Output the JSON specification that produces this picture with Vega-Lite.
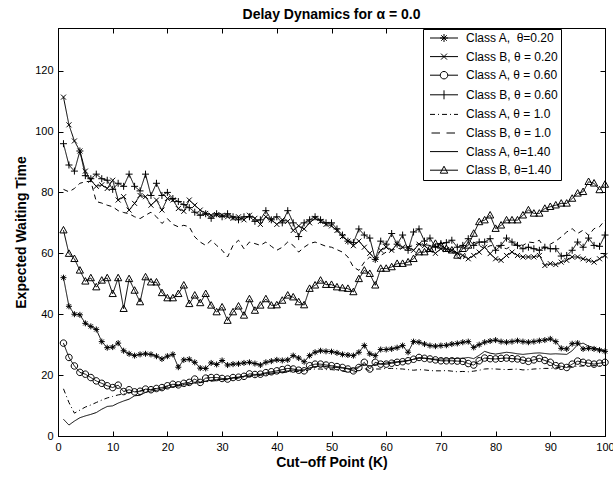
{
"$schema":"https://vega.github.io/schema/vega-lite/v6.json",
"width":547,"height":408,
"autosize":{"type":"none"},
"padding":{"left":58,"top":28,"right":8,"bottom":42},
"background":"white",
"title":{"text":"Delay Dynamics for α = 0.0","font":"Liberation Sans","fontSize":14,"fontWeight":"bold","color":"black","anchor":"middle","offset":6},
"data":{"values":[
{"s":"a020","k":1,"v":52},{"s":"a020","k":2,"v":42.6},{"s":"a020","k":3,"v":40},{"s":"a020","k":4,"v":39.8},{"s":"a020","k":5,"v":37},{"s":"a020","k":6,"v":36},{"s":"a020","k":7,"v":35},{"s":"a020","k":8,"v":31},{"s":"a020","k":9,"v":29},{"s":"a020","k":10,"v":29.2},
{"s":"a020","k":11,"v":30.5},{"s":"a020","k":12,"v":28},{"s":"a020","k":13,"v":27},{"s":"a020","k":14,"v":26.4},{"s":"a020","k":15,"v":26.8},{"s":"a020","k":16,"v":27},{"s":"a020","k":17,"v":26.8},{"s":"a020","k":18,"v":26.2},{"s":"a020","k":19,"v":25.3},{"s":"a020","k":20,"v":26.2},
{"s":"a020","k":21,"v":26.8},{"s":"a020","k":22,"v":22.6},{"s":"a020","k":23,"v":25},{"s":"a020","k":24,"v":25.2},{"s":"a020","k":25,"v":24.2},{"s":"a020","k":26,"v":22.3},{"s":"a020","k":27,"v":22.2},{"s":"a020","k":28,"v":24},{"s":"a020","k":29,"v":23.5},{"s":"a020","k":30,"v":24.8},
{"s":"a020","k":31,"v":23.3},{"s":"a020","k":32,"v":23.6},{"s":"a020","k":33,"v":23.7},{"s":"a020","k":34,"v":24},{"s":"a020","k":35,"v":24.2},{"s":"a020","k":36,"v":23.8},{"s":"a020","k":37,"v":23.3},{"s":"a020","k":38,"v":24.2},{"s":"a020","k":39,"v":24.6},{"s":"a020","k":40,"v":25},
{"s":"a020","k":41,"v":24.8},{"s":"a020","k":42,"v":25},{"s":"a020","k":43,"v":26.4},{"s":"a020","k":44,"v":25.6},{"s":"a020","k":45,"v":24.4},{"s":"a020","k":46,"v":26.4},{"s":"a020","k":47,"v":27.5},{"s":"a020","k":48,"v":28},{"s":"a020","k":49,"v":27.8},{"s":"a020","k":50,"v":27.7},
{"s":"a020","k":51,"v":27.3},{"s":"a020","k":52,"v":26.8},{"s":"a020","k":53,"v":26.6},{"s":"a020","k":54,"v":26.4},{"s":"a020","k":55,"v":27.5},{"s":"a020","k":56,"v":29.7},{"s":"a020","k":57,"v":27},{"s":"a020","k":58,"v":26.4},{"s":"a020","k":59,"v":28.4},{"s":"a020","k":60,"v":28.4},
{"s":"a020","k":61,"v":28.6},{"s":"a020","k":62,"v":29},{"s":"a020","k":63,"v":29.7},{"s":"a020","k":64,"v":27.5},{"s":"a020","k":65,"v":31},{"s":"a020","k":66,"v":30.8},{"s":"a020","k":67,"v":30.2},{"s":"a020","k":68,"v":29.7},{"s":"a020","k":69,"v":29.5},{"s":"a020","k":70,"v":29.7},
{"s":"a020","k":71,"v":29.8},{"s":"a020","k":72,"v":30.2},{"s":"a020","k":73,"v":30.4},{"s":"a020","k":74,"v":30.8},{"s":"a020","k":75,"v":31},{"s":"a020","k":76,"v":29.1},{"s":"a020","k":77,"v":30},{"s":"a020","k":78,"v":30.8},{"s":"a020","k":79,"v":31.2},{"s":"a020","k":80,"v":31.5},
{"s":"a020","k":81,"v":31},{"s":"a020","k":82,"v":30.8},{"s":"a020","k":83,"v":31},{"s":"a020","k":84,"v":31.3},{"s":"a020","k":85,"v":31},{"s":"a020","k":86,"v":30.8},{"s":"a020","k":87,"v":31},{"s":"a020","k":88,"v":31.3},{"s":"a020","k":89,"v":31.5},{"s":"a020","k":90,"v":31.9},
{"s":"a020","k":91,"v":31},{"s":"a020","k":92,"v":28.8},{"s":"a020","k":93,"v":28.6},{"s":"a020","k":94,"v":30.3},{"s":"a020","k":95,"v":30.5},{"s":"a020","k":96,"v":28.6},{"s":"a020","k":97,"v":28.8},{"s":"a020","k":98,"v":28.6},{"s":"a020","k":99,"v":28.2},{"s":"a020","k":100,"v":27.8},
{"s":"a060","k":1,"v":30.5},{"s":"a060","k":2,"v":25.8},{"s":"a060","k":3,"v":23},{"s":"a060","k":4,"v":20.9},{"s":"a060","k":5,"v":20.3},{"s":"a060","k":6,"v":19.2},{"s":"a060","k":7,"v":18.1},{"s":"a060","k":8,"v":17.3},{"s":"a060","k":9,"v":16.5},{"s":"a060","k":10,"v":15.9},
{"s":"a060","k":11,"v":16.7},{"s":"a060","k":12,"v":14.6},{"s":"a060","k":13,"v":15.2},{"s":"a060","k":14,"v":14.5},{"s":"a060","k":15,"v":14.7},{"s":"a060","k":16,"v":15.4},{"s":"a060","k":17,"v":15.2},{"s":"a060","k":18,"v":15.6},{"s":"a060","k":19,"v":15.9},{"s":"a060","k":20,"v":16.5},
{"s":"a060","k":21,"v":17},{"s":"a060","k":22,"v":16.8},{"s":"a060","k":23,"v":17.3},{"s":"a060","k":24,"v":17.6},{"s":"a060","k":25,"v":18.7},{"s":"a060","k":26,"v":17.6},{"s":"a060","k":27,"v":19},{"s":"a060","k":28,"v":19.2},{"s":"a060","k":29,"v":19.2},{"s":"a060","k":30,"v":18.9},
{"s":"a060","k":31,"v":18.7},{"s":"a060","k":32,"v":19.2},{"s":"a060","k":33,"v":19.3},{"s":"a060","k":34,"v":19.6},{"s":"a060","k":35,"v":20.4},{"s":"a060","k":36,"v":20.2},{"s":"a060","k":37,"v":20.3},{"s":"a060","k":38,"v":20.8},{"s":"a060","k":39,"v":21.1},{"s":"a060","k":40,"v":21.4},
{"s":"a060","k":41,"v":21.8},{"s":"a060","k":42,"v":22.2},{"s":"a060","k":43,"v":22},{"s":"a060","k":44,"v":21.6},{"s":"a060","k":45,"v":21.4},{"s":"a060","k":46,"v":23.1},{"s":"a060","k":47,"v":23.6},{"s":"a060","k":48,"v":23.6},{"s":"a060","k":49,"v":23.3},{"s":"a060","k":50,"v":23.1},
{"s":"a060","k":51,"v":22.8},{"s":"a060","k":52,"v":22.5},{"s":"a060","k":53,"v":22},{"s":"a060","k":54,"v":21.4},{"s":"a060","k":55,"v":22.5},{"s":"a060","k":56,"v":24.2},{"s":"a060","k":57,"v":22},{"s":"a060","k":58,"v":24.2},{"s":"a060","k":59,"v":23.6},{"s":"a060","k":60,"v":23.6},
{"s":"a060","k":61,"v":23.9},{"s":"a060","k":62,"v":24.2},{"s":"a060","k":63,"v":24.4},{"s":"a060","k":64,"v":24.7},{"s":"a060","k":65,"v":25.2},{"s":"a060","k":66,"v":25.8},{"s":"a060","k":67,"v":25.5},{"s":"a060","k":68,"v":25.3},{"s":"a060","k":69,"v":25},{"s":"a060","k":70,"v":24.7},
{"s":"a060","k":71,"v":24.7},{"s":"a060","k":72,"v":24.7},{"s":"a060","k":73,"v":24.6},{"s":"a060","k":74,"v":24.5},{"s":"a060","k":75,"v":23.8},{"s":"a060","k":76,"v":23.3},{"s":"a060","k":77,"v":24.7},{"s":"a060","k":78,"v":25.6},{"s":"a060","k":79,"v":25.4},{"s":"a060","k":80,"v":25.3},
{"s":"a060","k":81,"v":25.5},{"s":"a060","k":82,"v":25.6},{"s":"a060","k":83,"v":25.4},{"s":"a060","k":84,"v":25.3},{"s":"a060","k":85,"v":24.9},{"s":"a060","k":86,"v":24.5},{"s":"a060","k":87,"v":25},{"s":"a060","k":88,"v":25.5},{"s":"a060","k":89,"v":24.8},{"s":"a060","k":90,"v":24.2},
{"s":"a060","k":91,"v":23.1},{"s":"a060","k":92,"v":22.9},{"s":"a060","k":93,"v":22.5},{"s":"a060","k":94,"v":23.6},{"s":"a060","k":95,"v":24.6},{"s":"a060","k":96,"v":24.2},{"s":"a060","k":97,"v":23.9},{"s":"a060","k":98,"v":23.6},{"s":"a060","k":99,"v":23.9},{"s":"a060","k":100,"v":24.2},
{"s":"a140","k":1,"v":5.5},{"s":"a140","k":2,"v":3.6},{"s":"a140","k":3,"v":4.9},{"s":"a140","k":4,"v":6},{"s":"a140","k":5,"v":6.6},{"s":"a140","k":6,"v":7.1},{"s":"a140","k":7,"v":7.7},{"s":"a140","k":8,"v":8.8},{"s":"a140","k":9,"v":9.7},{"s":"a140","k":10,"v":9.9},
{"s":"a140","k":11,"v":10.8},{"s":"a140","k":12,"v":11.5},{"s":"a140","k":13,"v":12.1},{"s":"a140","k":14,"v":13.2},{"s":"a140","k":15,"v":13.4},{"s":"a140","k":16,"v":14.3},{"s":"a140","k":17,"v":14.8},{"s":"a140","k":18,"v":15},{"s":"a140","k":19,"v":15.4},{"s":"a140","k":20,"v":15.8},
{"s":"a140","k":21,"v":16.2},{"s":"a140","k":22,"v":16.4},{"s":"a140","k":23,"v":16.8},{"s":"a140","k":24,"v":17.1},{"s":"a140","k":25,"v":17.4},{"s":"a140","k":26,"v":17.5},{"s":"a140","k":27,"v":18},{"s":"a140","k":28,"v":18.3},{"s":"a140","k":29,"v":18.5},{"s":"a140","k":30,"v":18.6},
{"s":"a140","k":31,"v":18.8},{"s":"a140","k":32,"v":19},{"s":"a140","k":33,"v":19.3},{"s":"a140","k":34,"v":19.6},{"s":"a140","k":35,"v":19.8},{"s":"a140","k":36,"v":20},{"s":"a140","k":37,"v":20.2},{"s":"a140","k":38,"v":20.5},{"s":"a140","k":39,"v":20.7},{"s":"a140","k":40,"v":20.9},
{"s":"a140","k":41,"v":21.1},{"s":"a140","k":42,"v":21.4},{"s":"a140","k":43,"v":21.6},{"s":"a140","k":44,"v":21.6},{"s":"a140","k":45,"v":21.8},{"s":"a140","k":46,"v":22.4},{"s":"a140","k":47,"v":22.8},{"s":"a140","k":48,"v":23},{"s":"a140","k":49,"v":22.8},{"s":"a140","k":50,"v":22.6},
{"s":"a140","k":51,"v":22.5},{"s":"a140","k":52,"v":22.3},{"s":"a140","k":53,"v":22.2},{"s":"a140","k":54,"v":22},{"s":"a140","k":55,"v":22.8},{"s":"a140","k":56,"v":23.6},{"s":"a140","k":57,"v":23},{"s":"a140","k":58,"v":23.5},{"s":"a140","k":59,"v":23.7},{"s":"a140","k":60,"v":24},
{"s":"a140","k":61,"v":24.2},{"s":"a140","k":62,"v":24.4},{"s":"a140","k":63,"v":24.6},{"s":"a140","k":64,"v":24.8},{"s":"a140","k":65,"v":25.2},{"s":"a140","k":66,"v":25.5},{"s":"a140","k":67,"v":25.6},{"s":"a140","k":68,"v":25.4},{"s":"a140","k":69,"v":25.2},{"s":"a140","k":70,"v":25.3},
{"s":"a140","k":71,"v":25.3},{"s":"a140","k":72,"v":25.4},{"s":"a140","k":73,"v":25.5},{"s":"a140","k":74,"v":25.5},{"s":"a140","k":75,"v":25.8},{"s":"a140","k":76,"v":25.4},{"s":"a140","k":77,"v":26.5},{"s":"a140","k":78,"v":27.8},{"s":"a140","k":79,"v":27.2},{"s":"a140","k":80,"v":26.9},
{"s":"a140","k":81,"v":27.2},{"s":"a140","k":82,"v":27.5},{"s":"a140","k":83,"v":27.3},{"s":"a140","k":84,"v":27},{"s":"a140","k":85,"v":26.8},{"s":"a140","k":86,"v":27},{"s":"a140","k":87,"v":27.2},{"s":"a140","k":88,"v":27.3},{"s":"a140","k":89,"v":27.1},{"s":"a140","k":90,"v":26.9},
{"s":"a140","k":91,"v":27},{"s":"a140","k":92,"v":26.9},{"s":"a140","k":93,"v":26.8},{"s":"a140","k":94,"v":28},{"s":"a140","k":95,"v":30},{"s":"a140","k":96,"v":30.5},{"s":"a140","k":97,"v":29.5},{"s":"a140","k":98,"v":29},{"s":"a140","k":99,"v":28.5},{"s":"a140","k":100,"v":28},
{"s":"a100","k":1,"v":15.5},{"s":"a100","k":2,"v":11},{"s":"a100","k":3,"v":7.5},{"s":"a100","k":4,"v":8.5},{"s":"a100","k":5,"v":9.5},{"s":"a100","k":6,"v":10.2},{"s":"a100","k":7,"v":11},{"s":"a100","k":8,"v":11.8},{"s":"a100","k":9,"v":12.5},{"s":"a100","k":10,"v":13},
{"s":"a100","k":11,"v":13.5},{"s":"a100","k":12,"v":13.8},{"s":"a100","k":13,"v":14.2},{"s":"a100","k":14,"v":14.5},{"s":"a100","k":15,"v":14.8},{"s":"a100","k":16,"v":15},{"s":"a100","k":17,"v":15.3},{"s":"a100","k":18,"v":15.6},{"s":"a100","k":19,"v":15.8},{"s":"a100","k":20,"v":16.2},
{"s":"a100","k":21,"v":16.5},{"s":"a100","k":22,"v":16.6},{"s":"a100","k":23,"v":16.9},{"s":"a100","k":24,"v":17.1},{"s":"a100","k":25,"v":17.4},{"s":"a100","k":26,"v":17.6},{"s":"a100","k":27,"v":17.8},{"s":"a100","k":28,"v":18},{"s":"a100","k":29,"v":18.2},{"s":"a100","k":30,"v":18.4},
{"s":"a100","k":31,"v":18.5},{"s":"a100","k":32,"v":18.7},{"s":"a100","k":33,"v":19},{"s":"a100","k":34,"v":19.2},{"s":"a100","k":35,"v":19.5},{"s":"a100","k":36,"v":19.7},{"s":"a100","k":37,"v":19.9},{"s":"a100","k":38,"v":20.2},{"s":"a100","k":39,"v":20.4},{"s":"a100","k":40,"v":20.6},
{"s":"a100","k":41,"v":20.8},{"s":"a100","k":42,"v":21},{"s":"a100","k":43,"v":21.2},{"s":"a100","k":44,"v":21.2},{"s":"a100","k":45,"v":21.3},{"s":"a100","k":46,"v":21.8},{"s":"a100","k":47,"v":22},{"s":"a100","k":48,"v":22},{"s":"a100","k":49,"v":21.8},{"s":"a100","k":50,"v":21.8},
{"s":"a100","k":51,"v":21.6},{"s":"a100","k":52,"v":21.3},{"s":"a100","k":53,"v":21},{"s":"a100","k":54,"v":20.9},{"s":"a100","k":55,"v":21.6},{"s":"a100","k":56,"v":22.2},{"s":"a100","k":57,"v":21.4},{"s":"a100","k":58,"v":22},{"s":"a100","k":59,"v":22},{"s":"a100","k":60,"v":22.2},
{"s":"a100","k":61,"v":22.2},{"s":"a100","k":62,"v":22.1},{"s":"a100","k":63,"v":22},{"s":"a100","k":64,"v":21.8},{"s":"a100","k":65,"v":21.6},{"s":"a100","k":66,"v":21.8},{"s":"a100","k":67,"v":21.7},{"s":"a100","k":68,"v":21.5},{"s":"a100","k":69,"v":21.4},{"s":"a100","k":70,"v":21.4},
{"s":"a100","k":71,"v":21.5},{"s":"a100","k":72,"v":21.3},{"s":"a100","k":73,"v":21.1},{"s":"a100","k":74,"v":21.2},{"s":"a100","k":75,"v":21.1},{"s":"a100","k":76,"v":21.3},{"s":"a100","k":77,"v":21.6},{"s":"a100","k":78,"v":22},{"s":"a100","k":79,"v":22.1},{"s":"a100","k":80,"v":22},
{"s":"a100","k":81,"v":21.9},{"s":"a100","k":82,"v":21.8},{"s":"a100","k":83,"v":21.9},{"s":"a100","k":84,"v":22},{"s":"a100","k":85,"v":21.7},{"s":"a100","k":86,"v":21.8},{"s":"a100","k":87,"v":22},{"s":"a100","k":88,"v":22.1},{"s":"a100","k":89,"v":22.2},{"s":"a100","k":90,"v":22.2},
{"s":"a100","k":91,"v":22.4},{"s":"a100","k":92,"v":22.5},{"s":"a100","k":93,"v":22.6},{"s":"a100","k":94,"v":22.8},{"s":"a100","k":95,"v":22.9},{"s":"a100","k":96,"v":23},{"s":"a100","k":97,"v":23},{"s":"a100","k":98,"v":23.1},{"s":"a100","k":99,"v":23.1},{"s":"a100","k":100,"v":23.2},
{"s":"b020","k":1,"v":111.3},{"s":"b020","k":2,"v":102.2},{"s":"b020","k":3,"v":96.9},{"s":"b020","k":4,"v":93.6},{"s":"b020","k":5,"v":87},{"s":"b020","k":6,"v":84},{"s":"b020","k":7,"v":82},{"s":"b020","k":8,"v":82.5},{"s":"b020","k":9,"v":81.3},{"s":"b020","k":10,"v":84},
{"s":"b020","k":11,"v":77.5},{"s":"b020","k":12,"v":78.6},{"s":"b020","k":13,"v":74.2},{"s":"b020","k":14,"v":76.4},{"s":"b020","k":15,"v":79},{"s":"b020","k":16,"v":78.6},{"s":"b020","k":17,"v":75.8},{"s":"b020","k":18,"v":77.5},{"s":"b020","k":19,"v":74.2},{"s":"b020","k":20,"v":78},
{"s":"b020","k":21,"v":77.5},{"s":"b020","k":22,"v":74.7},{"s":"b020","k":23,"v":73.8},{"s":"b020","k":24,"v":77.5},{"s":"b020","k":25,"v":75.8},{"s":"b020","k":26,"v":74.2},{"s":"b020","k":27,"v":73.1},{"s":"b020","k":28,"v":72.5},{"s":"b020","k":29,"v":72.7},{"s":"b020","k":30,"v":72.5},
{"s":"b020","k":31,"v":72},{"s":"b020","k":32,"v":71.5},{"s":"b020","k":33,"v":72},{"s":"b020","k":34,"v":71},{"s":"b020","k":35,"v":72.5},{"s":"b020","k":36,"v":71.5},{"s":"b020","k":37,"v":69.5},{"s":"b020","k":38,"v":72},{"s":"b020","k":39,"v":71},{"s":"b020","k":40,"v":69.5},
{"s":"b020","k":41,"v":71},{"s":"b020","k":42,"v":70.5},{"s":"b020","k":43,"v":67.5},{"s":"b020","k":44,"v":69},{"s":"b020","k":45,"v":68},{"s":"b020","k":46,"v":70},{"s":"b020","k":47,"v":71.5},{"s":"b020","k":48,"v":70.5},{"s":"b020","k":49,"v":69.5},{"s":"b020","k":50,"v":69},
{"s":"b020","k":51,"v":67.5},{"s":"b020","k":52,"v":65.5},{"s":"b020","k":53,"v":64},{"s":"b020","k":54,"v":62.5},{"s":"b020","k":55,"v":64},{"s":"b020","k":56,"v":62},{"s":"b020","k":57,"v":60},{"s":"b020","k":58,"v":58},{"s":"b020","k":59,"v":61},{"s":"b020","k":60,"v":62},
{"s":"b020","k":61,"v":61},{"s":"b020","k":62,"v":63},{"s":"b020","k":63,"v":62},{"s":"b020","k":64,"v":62},{"s":"b020","k":65,"v":61},{"s":"b020","k":66,"v":63},{"s":"b020","k":67,"v":62.5},{"s":"b020","k":68,"v":61},{"s":"b020","k":69,"v":60},{"s":"b020","k":70,"v":61.5},
{"s":"b020","k":71,"v":61.2},{"s":"b020","k":72,"v":61},{"s":"b020","k":73,"v":60},{"s":"b020","k":74,"v":59.3},{"s":"b020","k":75,"v":58.2},{"s":"b020","k":76,"v":59.3},{"s":"b020","k":77,"v":60.4},{"s":"b020","k":78,"v":62},{"s":"b020","k":79,"v":59.9},{"s":"b020","k":80,"v":58.2},
{"s":"b020","k":81,"v":57.7},{"s":"b020","k":82,"v":59.3},{"s":"b020","k":83,"v":60.4},{"s":"b020","k":84,"v":59.3},{"s":"b020","k":85,"v":58.8},{"s":"b020","k":86,"v":58.8},{"s":"b020","k":87,"v":58.8},{"s":"b020","k":88,"v":59.3},{"s":"b020","k":89,"v":56},{"s":"b020","k":90,"v":56.6},
{"s":"b020","k":91,"v":56.3},{"s":"b020","k":92,"v":57.1},{"s":"b020","k":93,"v":57.7},{"s":"b020","k":94,"v":58.8},{"s":"b020","k":95,"v":58.8},{"s":"b020","k":96,"v":58.2},{"s":"b020","k":97,"v":57.7},{"s":"b020","k":98,"v":57.1},{"s":"b020","k":99,"v":58.2},{"s":"b020","k":100,"v":59.3},
{"s":"b060","k":1,"v":96},{"s":"b060","k":2,"v":89},{"s":"b060","k":3,"v":87},{"s":"b060","k":4,"v":93.6},{"s":"b060","k":5,"v":85.5},{"s":"b060","k":6,"v":84.5},{"s":"b060","k":7,"v":86},{"s":"b060","k":8,"v":84.5},{"s":"b060","k":9,"v":84},{"s":"b060","k":10,"v":81},
{"s":"b060","k":11,"v":83},{"s":"b060","k":12,"v":82},{"s":"b060","k":13,"v":86},{"s":"b060","k":14,"v":82},{"s":"b060","k":15,"v":80.5},{"s":"b060","k":16,"v":86},{"s":"b060","k":17,"v":79},{"s":"b060","k":18,"v":83},{"s":"b060","k":19,"v":79},{"s":"b060","k":20,"v":80},
{"s":"b060","k":21,"v":78},{"s":"b060","k":22,"v":77},{"s":"b060","k":23,"v":76},{"s":"b060","k":24,"v":75},{"s":"b060","k":25,"v":73.5},{"s":"b060","k":26,"v":72.5},{"s":"b060","k":27,"v":73},{"s":"b060","k":28,"v":71.5},{"s":"b060","k":29,"v":73},{"s":"b060","k":30,"v":72},
{"s":"b060","k":31,"v":73},{"s":"b060","k":32,"v":72},{"s":"b060","k":33,"v":71},{"s":"b060","k":34,"v":72},{"s":"b060","k":35,"v":72},{"s":"b060","k":36,"v":70.5},{"s":"b060","k":37,"v":71},{"s":"b060","k":38,"v":74},{"s":"b060","k":39,"v":71},{"s":"b060","k":40,"v":72},
{"s":"b060","k":41,"v":70},{"s":"b060","k":42,"v":74},{"s":"b060","k":43,"v":70},{"s":"b060","k":44,"v":65.5},{"s":"b060","k":45,"v":70},{"s":"b060","k":46,"v":71},{"s":"b060","k":47,"v":72},{"s":"b060","k":48,"v":71},{"s":"b060","k":49,"v":70},{"s":"b060","k":50,"v":70},
{"s":"b060","k":51,"v":68},{"s":"b060","k":52,"v":66},{"s":"b060","k":53,"v":64},{"s":"b060","k":54,"v":63.5},{"s":"b060","k":55,"v":68},{"s":"b060","k":56,"v":66},{"s":"b060","k":57,"v":65},{"s":"b060","k":58,"v":58},{"s":"b060","k":59,"v":64},{"s":"b060","k":60,"v":63},
{"s":"b060","k":61,"v":66.5},{"s":"b060","k":62,"v":63},{"s":"b060","k":63,"v":66},{"s":"b060","k":64,"v":61},{"s":"b060","k":65,"v":67},{"s":"b060","k":66,"v":68},{"s":"b060","k":67,"v":64},{"s":"b060","k":68,"v":65},{"s":"b060","k":69,"v":62},{"s":"b060","k":70,"v":63.2},
{"s":"b060","k":71,"v":63.5},{"s":"b060","k":72,"v":64.3},{"s":"b060","k":73,"v":62},{"s":"b060","k":74,"v":62.6},{"s":"b060","k":75,"v":64.8},{"s":"b060","k":76,"v":62.6},{"s":"b060","k":77,"v":63.7},{"s":"b060","k":78,"v":63.7},{"s":"b060","k":79,"v":64.8},{"s":"b060","k":80,"v":61},
{"s":"b060","k":81,"v":62.6},{"s":"b060","k":82,"v":65},{"s":"b060","k":83,"v":63.7},{"s":"b060","k":84,"v":62.6},{"s":"b060","k":85,"v":61.5},{"s":"b060","k":86,"v":62},{"s":"b060","k":87,"v":61.5},{"s":"b060","k":88,"v":61},{"s":"b060","k":89,"v":62},{"s":"b060","k":90,"v":61.5},
{"s":"b060","k":91,"v":61.5},{"s":"b060","k":92,"v":59.1},{"s":"b060","k":93,"v":59.3},{"s":"b060","k":94,"v":61},{"s":"b060","k":95,"v":63.7},{"s":"b060","k":96,"v":62},{"s":"b060","k":97,"v":65},{"s":"b060","k":98,"v":62.6},{"s":"b060","k":99,"v":62.3},{"s":"b060","k":100,"v":66},
{"s":"b100","k":1,"v":81},{"s":"b100","k":2,"v":80.2},{"s":"b100","k":3,"v":81.3},{"s":"b100","k":4,"v":83},{"s":"b100","k":5,"v":83.5},{"s":"b100","k":6,"v":83.7},{"s":"b100","k":7,"v":77},{"s":"b100","k":8,"v":76.5},{"s":"b100","k":9,"v":75.8},{"s":"b100","k":10,"v":75.3},
{"s":"b100","k":11,"v":74},{"s":"b100","k":12,"v":73.4},{"s":"b100","k":13,"v":73},{"s":"b100","k":14,"v":72},{"s":"b100","k":15,"v":71.4},{"s":"b100","k":16,"v":72.5},{"s":"b100","k":17,"v":73.5},{"s":"b100","k":18,"v":72},{"s":"b100","k":19,"v":69.8},{"s":"b100","k":20,"v":71.4},
{"s":"b100","k":21,"v":69.5},{"s":"b100","k":22,"v":68.7},{"s":"b100","k":23,"v":69.2},{"s":"b100","k":24,"v":68.7},{"s":"b100","k":25,"v":65.4},{"s":"b100","k":26,"v":63.7},{"s":"b100","k":27,"v":62.6},{"s":"b100","k":28,"v":64.3},{"s":"b100","k":29,"v":62.6},{"s":"b100","k":30,"v":61},
{"s":"b100","k":31,"v":58.8},{"s":"b100","k":32,"v":62.6},{"s":"b100","k":33,"v":64.3},{"s":"b100","k":34,"v":61.5},{"s":"b100","k":35,"v":63.7},{"s":"b100","k":36,"v":63.2},{"s":"b100","k":37,"v":62.6},{"s":"b100","k":38,"v":63.7},{"s":"b100","k":39,"v":62.3},{"s":"b100","k":40,"v":61},
{"s":"b100","k":41,"v":62},{"s":"b100","k":42,"v":63.7},{"s":"b100","k":43,"v":62.6},{"s":"b100","k":44,"v":60.4},{"s":"b100","k":45,"v":62},{"s":"b100","k":46,"v":63.2},{"s":"b100","k":47,"v":63.7},{"s":"b100","k":48,"v":63},{"s":"b100","k":49,"v":62.3},{"s":"b100","k":50,"v":62},
{"s":"b100","k":51,"v":61.2},{"s":"b100","k":52,"v":60.4},{"s":"b100","k":53,"v":58.8},{"s":"b100","k":54,"v":55.5},{"s":"b100","k":55,"v":54.4},{"s":"b100","k":56,"v":57.1},{"s":"b100","k":57,"v":58.8},{"s":"b100","k":58,"v":57.7},{"s":"b100","k":59,"v":59.3},{"s":"b100","k":60,"v":60.4},
{"s":"b100","k":61,"v":61},{"s":"b100","k":62,"v":61.5},{"s":"b100","k":63,"v":61.8},{"s":"b100","k":64,"v":62},{"s":"b100","k":65,"v":62.6},{"s":"b100","k":66,"v":63.2},{"s":"b100","k":67,"v":62.8},{"s":"b100","k":68,"v":62.6},{"s":"b100","k":69,"v":62},{"s":"b100","k":70,"v":62.6},
{"s":"b100","k":71,"v":61.5},{"s":"b100","k":72,"v":60.4},{"s":"b100","k":73,"v":58.8},{"s":"b100","k":74,"v":57.7},{"s":"b100","k":75,"v":61.5},{"s":"b100","k":76,"v":63.7},{"s":"b100","k":77,"v":62.6},{"s":"b100","k":78,"v":61.5},{"s":"b100","k":79,"v":62.5},{"s":"b100","k":80,"v":62.6},
{"s":"b100","k":81,"v":62},{"s":"b100","k":82,"v":61.5},{"s":"b100","k":83,"v":62.5},{"s":"b100","k":84,"v":63.2},{"s":"b100","k":85,"v":62.6},{"s":"b100","k":86,"v":63.7},{"s":"b100","k":87,"v":63.5},{"s":"b100","k":88,"v":64.3},{"s":"b100","k":89,"v":61.5},{"s":"b100","k":90,"v":63},
{"s":"b100","k":91,"v":64},{"s":"b100","k":92,"v":65.4},{"s":"b100","k":93,"v":67},{"s":"b100","k":94,"v":68.1},{"s":"b100","k":95,"v":66.5},{"s":"b100","k":96,"v":67.6},{"s":"b100","k":97,"v":65.9},{"s":"b100","k":98,"v":68.1},{"s":"b100","k":99,"v":68.7},{"s":"b100","k":100,"v":70.9},
{"s":"b140","k":1,"v":67.6},{"s":"b140","k":2,"v":59.9},{"s":"b140","k":3,"v":58.2},{"s":"b140","k":4,"v":54.4},{"s":"b140","k":5,"v":50.8},{"s":"b140","k":6,"v":51.9},{"s":"b140","k":7,"v":48.9},{"s":"b140","k":8,"v":51.1},{"s":"b140","k":9,"v":51.9},{"s":"b140","k":10,"v":46.7},
{"s":"b140","k":11,"v":51.9},{"s":"b140","k":12,"v":41.8},{"s":"b140","k":13,"v":51.6},{"s":"b140","k":14,"v":47.8},{"s":"b140","k":15,"v":44},{"s":"b140","k":16,"v":52.2},{"s":"b140","k":17,"v":50.5},{"s":"b140","k":18,"v":50.5},{"s":"b140","k":19,"v":47},{"s":"b140","k":20,"v":45.3},
{"s":"b140","k":21,"v":45.3},{"s":"b140","k":22,"v":46.7},{"s":"b140","k":23,"v":49.5},{"s":"b140","k":24,"v":43.4},{"s":"b140","k":25,"v":46.2},{"s":"b140","k":26,"v":43.7},{"s":"b140","k":27,"v":46.7},{"s":"b140","k":28,"v":42.9},{"s":"b140","k":29,"v":40.7},{"s":"b140","k":30,"v":42.3},
{"s":"b140","k":31,"v":37.9},{"s":"b140","k":32,"v":40.7},{"s":"b140","k":33,"v":42.6},{"s":"b140","k":34,"v":39.6},{"s":"b140","k":35,"v":45},{"s":"b140","k":36,"v":41.2},{"s":"b140","k":37,"v":42.9},{"s":"b140","k":38,"v":45},{"s":"b140","k":39,"v":42.9},{"s":"b140","k":40,"v":43},
{"s":"b140","k":41,"v":44.5},{"s":"b140","k":42,"v":46.2},{"s":"b140","k":43,"v":45.6},{"s":"b140","k":44,"v":44},{"s":"b140","k":45,"v":43},{"s":"b140","k":46,"v":48.4},{"s":"b140","k":47,"v":49.5},{"s":"b140","k":48,"v":51.1},{"s":"b140","k":49,"v":49.7},{"s":"b140","k":50,"v":49.7},
{"s":"b140","k":51,"v":48.9},{"s":"b140","k":52,"v":48.6},{"s":"b140","k":53,"v":48.4},{"s":"b140","k":54,"v":47.3},{"s":"b140","k":55,"v":51.6},{"s":"b140","k":56,"v":54.4},{"s":"b140","k":57,"v":53.3},{"s":"b140","k":58,"v":49.5},{"s":"b140","k":59,"v":55},{"s":"b140","k":60,"v":55},
{"s":"b140","k":61,"v":55.5},{"s":"b140","k":62,"v":56.6},{"s":"b140","k":63,"v":56.6},{"s":"b140","k":64,"v":57.1},{"s":"b140","k":65,"v":58.2},{"s":"b140","k":66,"v":60.4},{"s":"b140","k":67,"v":60.4},{"s":"b140","k":68,"v":61.5},{"s":"b140","k":69,"v":63.2},{"s":"b140","k":70,"v":62.6},
{"s":"b140","k":71,"v":61.5},{"s":"b140","k":72,"v":61},{"s":"b140","k":73,"v":59.3},{"s":"b140","k":74,"v":61.5},{"s":"b140","k":75,"v":62.6},{"s":"b140","k":76,"v":66.5},{"s":"b140","k":77,"v":70.3},{"s":"b140","k":78,"v":70.9},{"s":"b140","k":79,"v":72.5},{"s":"b140","k":80,"v":68.1},
{"s":"b140","k":81,"v":69.2},{"s":"b140","k":82,"v":70.9},{"s":"b140","k":83,"v":70.9},{"s":"b140","k":84,"v":70.9},{"s":"b140","k":85,"v":72.5},{"s":"b140","k":86,"v":74.2},{"s":"b140","k":87,"v":73.1},{"s":"b140","k":88,"v":73.1},{"s":"b140","k":89,"v":74.7},{"s":"b140","k":90,"v":75.3},
{"s":"b140","k":91,"v":75.8},{"s":"b140","k":92,"v":76.4},{"s":"b140","k":93,"v":76.4},{"s":"b140","k":94,"v":78},{"s":"b140","k":95,"v":79.7},{"s":"b140","k":96,"v":80.2},{"s":"b140","k":97,"v":83.5},{"s":"b140","k":98,"v":83},{"s":"b140","k":99,"v":80.8},{"s":"b140","k":100,"v":82.6}
]},
"layer":[
{"mark":{"type":"line","color":"black","strokeWidth":1},
 "encoding":{
  "x":{"field":"k","type":"quantitative","scale":{"domain":[0,100],"nice":false,"zero":false},
       "axis":{"orient":"bottom","values":[0,10,20,30,40,50,60,70,80,90,100],"title":"Cut−off Point (K)","titlePadding":3}},
  "y":{"field":"v","type":"quantitative","scale":{"domain":[0,134],"nice":false},
       "axis":{"orient":"left","values":[0,20,40,60,80,100,120],"title":"Expected Waiting Time","titlePadding":6}},
  "detail":{"field":"s"},
  "strokeDash":{"field":"s","type":"nominal","legend":null,
     "scale":{"domain":["a020","b020","a060","b060","a100","b100","a140","b140"],
              "range":[[1,0],[1,0],[1,0],[1,0],[5,3,1,3],[5,4],[1,0],[1,0]]}}
 }},
{"transform":[{"filter":{"field":"s","oneOf":["a020","b020","a060","b060","b140"]}}],
 "mark":{"type":"point","filled":false,"stroke":"black","color":"black","strokeWidth":1,"size":100,"opacity":1},
 "encoding":{
  "x":{"field":"k","type":"quantitative","axis":null},
  "y":{"field":"v","type":"quantitative","axis":null},
  "shape":{"field":"s","type":"nominal","legend":null,
     "scale":{"domain":["a020","b020","a060","b060","b140"],
              "range":["M-0.6,0H0.6M0,-0.6V0.6M-0.42,-0.42L0.42,0.42M-0.42,0.42L0.42,-0.42",
                       "M-0.5,-0.5L0.5,0.5M-0.5,0.5L0.5,-0.5",
                       "M-0.65,0A0.65,0.65,0,1,0,0.65,0A0.65,0.65,0,1,0,-0.65,0Z",
                       "M-0.7,0H0.7M0,-0.7V0.7",
                       "M0,-0.75L0.72,0.55L-0.72,0.55Z"]}}
 }},
{"transform":[{"filter":"datum.k < 0"}],
 "mark":{"type":"point","filled":false,"stroke":"black","color":"black","strokeWidth":1,"size":100,"opacity":1},
 "encoding":{
  "x":{"field":"k","type":"quantitative","axis":{"orient":"top","values":[0,10,20,30,40,50,60,70,80,90,100],"labels":false,"title":null}},
  "y":{"field":"v","type":"quantitative","axis":{"orient":"right","values":[0,20,40,60,80,100,120],"labels":false,"title":null}},
  "shape":{"field":"s","type":"nominal",
     "scale":{"domain":["a020","b020","a060","b060","a100","b100","a140","b140"],
              "range":["M-2.8,0H2.8M-0.8,0H0.8M0,-0.8V0.8M-0.55,-0.55L0.55,0.55M-0.55,0.55L0.55,-0.55",
                       "M-2.8,0H2.8M-0.6,-0.6L0.6,0.6M-0.6,0.6L0.6,-0.6",
                       "M-2.8,0H-0.75M0.75,0H2.8M-0.75,0A0.75,0.75,0,1,0,0.75,0A0.75,0.75,0,1,0,-0.75,0",
                       "M-2.8,0H2.8M0,-0.9V0.9",
                       "M-2.8,0H-1.8M-1.2,0H-1M-0.4,0H0.6M1.2,0H1.4M2,0H2.8",
                       "M-2.5,0H-0.8M0.5,0H2.2",
                       "M-2.8,0H2.8",
                       "M-2.8,0H2.8M0,-0.8L0.75,0.6L-0.75,0.6Z"]},
     "legend":{"orient":"none","legendX":365,"legendY":1,"title":null,
        "labelExpr":"datum.label == 'a020' ? 'Class A,\u00a0 θ=0.20' : datum.label == 'b020' ? 'Class B, θ = 0.20' : datum.label == 'a060' ? 'Class A, θ = 0.60' : datum.label == 'b060' ? '\u00a0\u00a0Class B, θ = 0.60' : datum.label == 'a100' ? '\u00a0Class A, θ = 1.0' : datum.label == 'b100' ? '\u00a0Class B, θ = 1.0' : datum.label == 'a140' ? 'Class A, θ=1.40' : 'Class B, θ=1.40'"}}
 }}
],
"resolve":{"scale":{"shape":"independent"},"axis":{"x":"independent","y":"independent"},"legend":{"shape":"independent"}},
"config":{
 "view":{"stroke":"black","strokeWidth":1},
 "axis":{"domainColor":"black","domainWidth":1,"tickColor":"black","tickWidth":1,"tickSize":-5,"labelPadding":10,
         "labelFont":"Liberation Sans","labelFontSize":11,"labelColor":"black","labelFlush":false,"labelOverlap":false,
         "titleFont":"Liberation Sans","titleFontSize":14,"titleFontWeight":"bold","titleColor":"black","grid":false},
 "legend":{"strokeColor":"black","strokeWidth":1,"fillColor":"white","padding":3,"cornerRadius":0,
           "symbolOffset":12,"labelOffset":16,"rowPadding":6.6,"symbolSize":100,"symbolStrokeWidth":1,
           "symbolStrokeColor":"black","symbolFillColor":"transparent","symbolOpacity":1,
           "labelFont":"Liberation Sans","labelFontSize":12,"labelColor":"black","labelLimit":300}
}
}
